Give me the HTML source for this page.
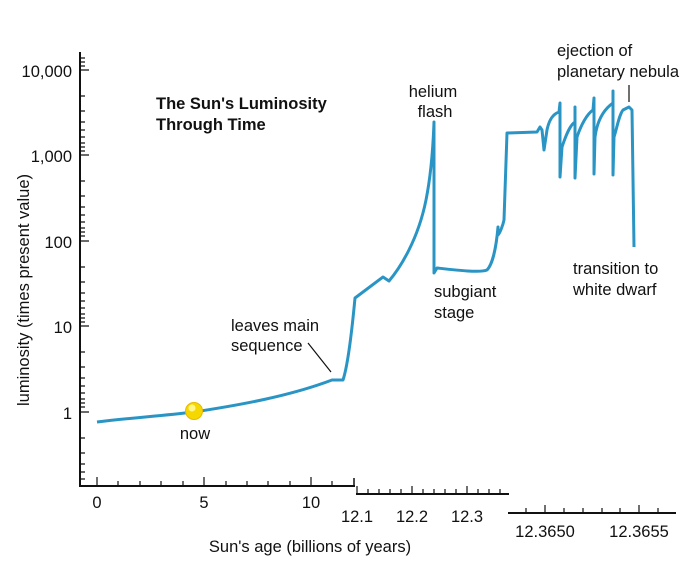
<!DOCTYPE html>
<html><head><style>
body{margin:0;background:#fff;}
svg text{font-family:"Liberation Sans",Arial,sans-serif;fill:#111;}
</style></head><body>
<svg width="694" height="571" viewBox="0 0 694 571" xmlns="http://www.w3.org/2000/svg">
<g stroke="#111" fill="none">
<line x1="80" y1="52" x2="80" y2="487" stroke-width="2"/>
<line x1="80" y1="486" x2="355" y2="486" stroke-width="2"/>
<line x1="354" y1="478" x2="354" y2="487" stroke-width="1.5"/>
<line x1="356" y1="494" x2="509" y2="494" stroke-width="2"/>
<line x1="508" y1="513" x2="676" y2="513" stroke-width="2"/>
</g>
<g stroke="#111" stroke-width="1.2">
<path d="M80 70h9M80 155h9M80 241h9M80 326h9M80 412h9"/>
<path d="M80 96h5M80 111h5M80 122h5M80 130h5M80 137h5M80 143h5M80 147h5M80 151h5
M80 181h5M80 196h5M80 207h5M80 215h5M80 222h5M80 228h5M80 232h5M80 236h5
M80 267h5M80 282h5M80 293h5M80 301h5M80 308h5M80 314h5M80 318h5M80 322h5
M80 352h5M80 367h5M80 378h5M80 386h5M80 393h5M80 399h5M80 403h5M80 407h5
M80 438h5M80 453h5M80 464h5M80 472h5M80 479h5M80 58h5M80 62h5M80 66h5"/>
<path d="M97 486v-9M204 486v-9M311 486v-9"/>
<path d="M118 486v-5M140 486v-5M161 486v-5M183 486v-5M226 486v-5M247 486v-5M268 486v-5M290 486v-5M332 486v-5"/>
<path d="M357 494v-8M412 494v-8M467 494v-8"/>
<path d="M368 494v-5M379 494v-5M390 494v-5M401 494v-5M423 494v-5M434 494v-5M445 494v-5M456 494v-5M478 494v-5M489 494v-5M500 494v-5"/>
<path d="M545 513v-8M639 513v-8"/>
<path d="M526 513v-5M564 513v-5M583 513v-5M602 513v-5M620 513v-5M658 513v-5"/>
<path d="M629 85v17"/>
<path d="M308 343 L331 372"/>
</g>
<path fill="none" stroke="#2a95c4" stroke-width="3" stroke-linejoin="round" d="
M97 422 C130 418 160 416 194 412 C240 405 290 396 332 380 L343 380 C348 365 352 330 355 298
L383 277 L389 281 C400 268 418 240 426 200 C430 180 433 150 434 122 L434 273 L437 268
C455 270 480 273 487 270 C492 265 496 250 498 227 L498 235 C500 233 503 225 504 220 L507 133
L537 132 L540 127 L542 130 L544 150 L547 130 C549 120 553 114 559 112 L560 103 L560 177
L562 147 C566 135 570 125 575 122 L575 107 L575 178 L577 137 C581 125 587 114 593 110 L594 98 L594 174
L595 137 C597 122 603 110 613 103 L613 91 L613 175 L614 137 C617 128 619 115 623 110 L629 107 L632 110 L634 247"/>
<circle cx="194" cy="411" r="8.5" fill="#f5d800" stroke="#e8b800" stroke-width="1"/>
<circle cx="192" cy="408" r="3.5" fill="#fff58a"/>
<g font-size="16.5">
<text x="72" y="77" text-anchor="end">10,000</text>
<text x="72" y="162" text-anchor="end">1,000</text>
<text x="72" y="248" text-anchor="end">100</text>
<text x="72" y="333" text-anchor="end">10</text>
<text x="72" y="419" text-anchor="end">1</text>
<text x="97" y="508" text-anchor="middle">0</text>
<text x="204" y="508" text-anchor="middle">5</text>
<text x="311" y="508" text-anchor="middle">10</text>
<text x="357" y="522" text-anchor="middle">12.1</text>
<text x="412" y="522" text-anchor="middle">12.2</text>
<text x="467" y="522" text-anchor="middle">12.3</text>
<text x="545" y="537" text-anchor="middle">12.3650</text>
<text x="639" y="537" text-anchor="middle">12.3655</text>
<text x="310" y="552" text-anchor="middle">Sun's age (billions of years)</text>
<text transform="translate(29,290) rotate(-90)" text-anchor="middle">luminosity (times present value)</text>
<text x="195" y="439" text-anchor="middle">now</text>
<text x="231" y="331">leaves main</text>
<text x="231" y="351">sequence</text>
<text x="433" y="97" text-anchor="middle">helium</text>
<text x="435" y="117" text-anchor="middle">flash</text>
<text x="434" y="297">subgiant</text>
<text x="434" y="318">stage</text>
<text x="557" y="56">ejection of</text>
<text x="557" y="77">planetary nebula</text>
<text x="573" y="274">transition to</text>
<text x="573" y="295">white dwarf</text>
<text x="156" y="109" font-weight="bold">The Sun's Luminosity</text>
<text x="156" y="130" font-weight="bold">Through Time</text>
</g>
</svg>
</body></html>
